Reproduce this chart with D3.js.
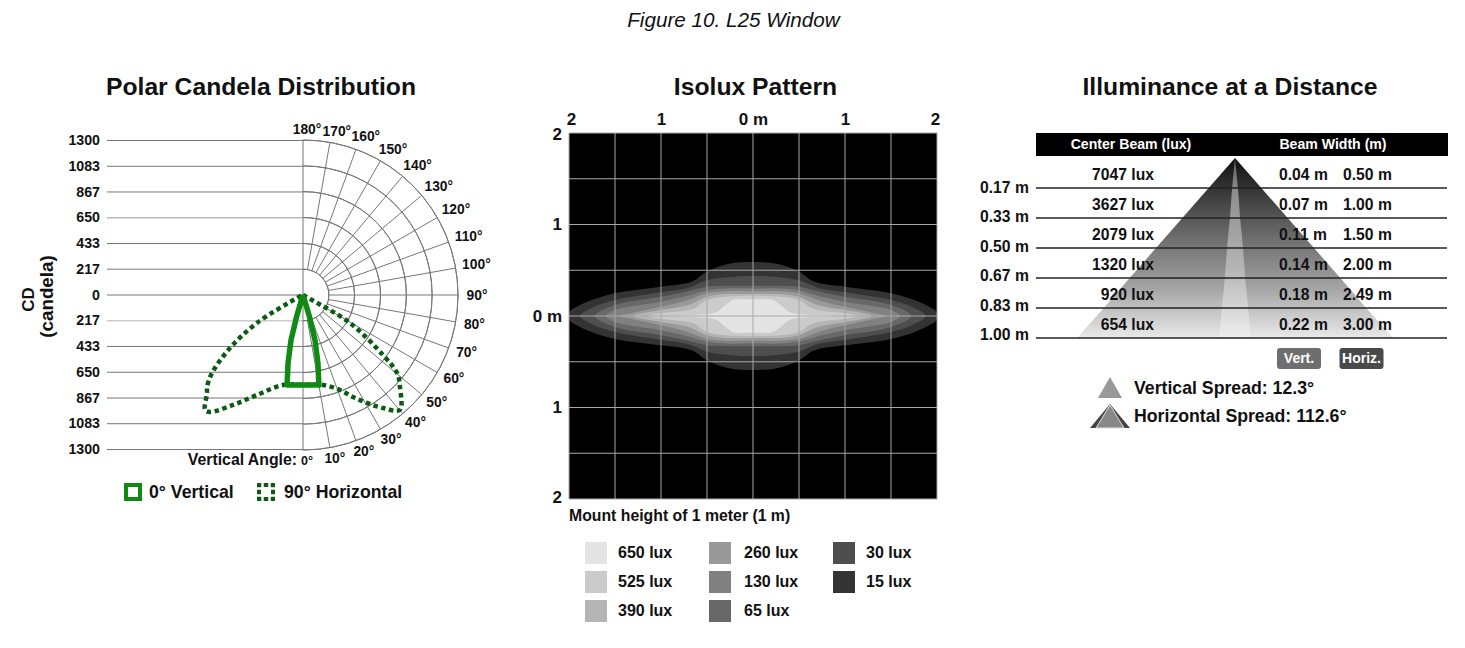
<!DOCTYPE html>
<html>
<head>
<meta charset="utf-8">
<script src="https://cdnjs.cloudflare.com/ajax/libs/d3/7.8.5/d3.min.js"></script>
<style>
body { margin: 0; background: #fff; }
text { font-family: "Liberation Sans", Arial, sans-serif; font-weight: bold; fill: #111; }
</style>
</head>
<body>
<div id="chart"></div>
<script>
// polar chart values, [angle in degrees, candela]
const cdTicks = [1300, 1083, 867, 650, 433, 217, 0, -217, -433, -650, -867, -1083, -1300];
const angleTicks = d3.range(0, 190, 10);
const vertical0 = [[0, 0], [16.7, 175], [14.9, 391], [12.4, 584], [10, 767], [5, 757], [0, 755],
	[-5, 757], [-10, 767], [-12.4, 584], [-14.9, 391], [-16.7, 175], [0, 0]];
const horizontal90 = [[0, 0], [61, 86], [59.2, 459], [53.1, 839], [50.3, 1025], [46.5, 1121], [40.1, 1260],
	[35.3, 1161], [30.7, 1053], [26.1, 953], [21.3, 855], [12.5, 773], [0, 755], [-12.5, 773],
	[-24.7, 923], [-32.5, 1093], [-38.5, 1253], [-40.4, 1267], [-44.4, 1150], [-46.2, 1115],
	[-49.4, 1005], [-54, 757], [-58.7, 452], [-63, 56], [0, 0]];

// isolux contours, upper right quadrant in metres
const isoLevels = ["15 lux", "30 lux", "65 lux", "130 lux", "260 lux", "390 lux", "525 lux", "650 lux"];
const isoColors = ["#333333", "#4e4e4e", "#686868", "#808080", "#999999", "#b5b5b5", "#cbcbcb", "#e4e4e4"];
const isoContours = [
	[[0, .59], [.26, .57], [.5, .485], [.66, .377], [1, .32], [1.5, .25], [1.79, .16], [2, .04], [2, 0]],
	[[0, .44], [.3, .42], [.5, .39], [.7, .31], [1, .26], [1.5, .175], [1.75, .09], [1.88, 0]],
	[[0, .33], [.3, .33], [.5, .32], [.75, .26], [1, .21], [1.5, .12], [1.72, 0]],
	[[0, .3], [.3, .3], [.5, .28], [.75, .21], [1, .155], [1.5, .065], [1.6, 0]],
	[[0, .27], [.3, .27], [.5, .25], [.75, .16], [1, .1], [1.3, .035], [1.45, 0]],
	[[0, .24], [.3, .24], [.5, .21], [.7, .12], [1, .065], [1.3, 0]],
	[[0, .22], [.3, .21], [.5, .175], [.65, .08], [1, .03], [1.15, 0]],
	[[0, .18], [.2, .18], [.3, .12], [.4, .04], [.6, .015], [.97, 0]]
];
const isoLegend = ["650 lux", "525 lux", "390 lux", "260 lux", "130 lux", "65 lux", "30 lux", "15 lux"];
const isoLegendColors = ["#e4e4e4", "#cbcbcb", "#b5b5b5", "#999999", "#808080", "#686868", "#4e4e4e", "#333333"];

// illuminance table
const depthLabels = ["0.17 m", "0.33 m", "0.50 m", "0.67 m", "0.83 m", "1.00 m"];
const centerBeam = ["7047 lux", "3627 lux", "2079 lux", "1320 lux", "920 lux", "654 lux"];
const vertWidth = [0.04, 0.07, 0.11, 0.14, 0.18, 0.22];
const horizWidth = [0.50, 1.00, 1.50, 2.00, 2.49, 3.00];

const svg = d3.select("#chart").append("svg").attr("width", 1465).attr("height", 648);

svg.append("text").attr("x", 733.5).attr("y", 27).attr("text-anchor", "middle")
	.style("font-size", "20.7px").style("font-style", "italic").style("font-weight", "normal").text("Figure 10. L25 Window");

[["Polar Candela Distribution", 261], ["Isolux Pattern", 755.5], ["Illuminance at a Distance", 1230]].forEach(t => {
	svg.append("text").attr("x", t[1]).attr("y", 95).attr("text-anchor", "middle")
		.style("font-size", "24.7px").text(t[0]);
});

// ---- polar ----
const cx = 303, cy = 295;
const yCd = d3.scaleLinear().domain([1300, -1300]).range([140, 449]);
const rCd = d3.scaleLinear().domain([0, 1300]).range([0, 155]);
const aDeg = d3.scaleLinear().domain([0, 180]).range([Math.PI, 0]);

const polarAxis = svg.append("g").attr("transform", `translate(${cx},0)`)
	.call(d3.axisLeft(yCd).tickValues(cdTicks).tickSize(196).tickPadding(7).tickFormat(d => Math.abs(d)));
polarAxis.select(".domain").remove();
polarAxis.selectAll(".tick line").attr("stroke", d => (d === 650 ? "#bbb" : d === -217 ? "#ccc" : "#777"))
	.attr("stroke-width", d => (d === 650 || d === -217 ? 1.5 : 1));
polarAxis.selectAll(".tick text").style("font-size", "14.2px").attr("fill", "#111");

const polar = svg.append("g").attr("transform", `translate(${cx},${cy})`);
polar.selectAll("path.ring").data(cdTicks.filter(d => d > 0)).enter().append("path")
	.attr("class", "ring").attr("fill", "none").attr("stroke", "#777")
	.attr("d", d => d3.arc()({ innerRadius: rCd(d), outerRadius: rCd(d), startAngle: 0, endAngle: Math.PI }));
polar.selectAll("line.spoke").data(angleTicks).enter().append("line")
	.attr("class", "spoke").attr("stroke", "#777")
	.attr("x1", d => (d % 180 ? rCd(217) : 0) * Math.sin(aDeg(d)))
	.attr("y1", d => -(d % 180 ? rCd(217) : 0) * Math.cos(aDeg(d)))
	.attr("x2", d => rCd(1300) * Math.sin(aDeg(d)))
	.attr("y2", d => -rCd(1300) * Math.cos(aDeg(d)));
polar.selectAll("text.ang").data(angleTicks).enter().append("text")
	.attr("class", "ang").attr("text-anchor", "middle").attr("dy", "0.35em")
	.attr("x", d => 172 * Math.sin(aDeg(d)) + (d >= 100 || d === 0 ? 4 : 2))
	.attr("y", d => -166 * Math.cos(aDeg(d)) + (d >= 100 && d <= 160 ? -2.5 : 0))
	.style("font-size", d => (d === 0 ? "12.5px" : "13.8px"))
	.text(d => d + "°");

const radial = d3.lineRadial().angle(d => aDeg(d[0])).radius(d => rCd(d[1])).curve(d3.curveCatmullRom.alpha(0.5));
polar.append("path").datum(horizontal90).attr("d", radial).attr("fill", "none")
	.attr("stroke", "#0c5a14").attr("stroke-width", 4.5).attr("stroke-dasharray", "4.5,3.5");
polar.append("path").datum(vertical0).attr("d", radial.curve(d3.curveLinear)).attr("fill", "none")
	.attr("stroke", "#0f8a12").attr("stroke-width", 5.5).attr("stroke-linejoin", "round");

svg.append("text").attr("transform", "translate(34,299.5) rotate(-90)").attr("text-anchor", "middle")
	.style("font-size", "17px").text("CD");
svg.append("text").attr("transform", "translate(53,296.5) rotate(-90)").attr("text-anchor", "middle")
	.style("font-size", "18.8px").text("(candela)");
svg.append("text").attr("x", 297).attr("y", 465).attr("text-anchor", "end").style("font-size", "15.8px").text("Vertical Angle:");

svg.append("rect").attr("x", 126).attr("y", 485).attr("width", 14).attr("height", 14)
	.attr("fill", "none").attr("stroke", "#0f8a12").attr("stroke-width", 4);
svg.append("text").attr("x", 149).attr("y", 498).style("font-size", "17.7px").text("0° Vertical");
svg.append("rect").attr("x", 259).attr("y", 485).attr("width", 14).attr("height", 14)
	.attr("fill", "none").attr("stroke", "#0c5a14").attr("stroke-width", 4)
	.attr("stroke-dasharray", "4.5,2.5").attr("stroke-dashoffset", 2.25);
svg.append("text").attr("x", 284).attr("y", 498).style("font-size", "17.7px").text("90° Horizontal");

// ---- isolux ----
const xIso = d3.scaleLinear().domain([-2, 2]).range([569, 937]);
const yIso = d3.scaleLinear().domain([2, -2]).range([133, 499]);
svg.append("defs").append("clipPath").attr("id", "isoClip").append("rect")
	.attr("x", 569).attr("y", 133).attr("width", 368).attr("height", 366);
svg.append("rect").attr("x", xIso(-2)).attr("y", yIso(2)).attr("width", xIso(2) - xIso(-2)).attr("height", yIso(-2) - yIso(2)).attr("fill", "#000");

// mirror a quadrant into a full closed outline
const fullOutline = q => {
	const rev = q.slice().reverse();
	return q.concat(rev.slice(1).map(p => [p[0], -p[1]]),
		q.slice(1).map(p => [-p[0], -p[1]]),
		rev.slice(1, -1).map(p => [-p[0], p[1]]));
};
const contour = d3.line().x(d => xIso(d[0])).y(d => yIso(d[1])).curve(d3.curveCatmullRomClosed.alpha(0.5));
svg.append("g").attr("clip-path", "url(#isoClip)").selectAll("path").data(isoContours).enter().append("path")
	.attr("d", d => contour(fullOutline(d)))
	.attr("fill", (d, i) => isoColors[i]);

const gridVals = d3.range(-2, 2.5, 0.5);
svg.append("g").selectAll("line").data(gridVals).enter().append("line")
	.attr("x1", d => xIso(d)).attr("x2", d => xIso(d)).attr("y1", yIso(2)).attr("y2", yIso(-2)).attr("stroke", "#a8a8a8");
svg.append("g").selectAll("line").data(gridVals).enter().append("line")
	.attr("y1", d => yIso(d)).attr("y2", d => yIso(d)).attr("x1", xIso(-2)).attr("x2", xIso(2)).attr("stroke", "#a8a8a8");

const isoFmt = d => (d === 0 ? "0 m" : Math.abs(d));
const isoTop = svg.append("g").attr("transform", "translate(0,133)")
	.call(d3.axisTop(xIso).tickValues([-2, -1, 0, 1, 2]).tickSize(0).tickPadding(8).tickFormat(isoFmt));
const isoLeft = svg.append("g").attr("transform", "translate(569,0)")
	.call(d3.axisLeft(yIso).tickValues([-2, -1, 0, 1, 2]).tickSize(0).tickPadding(7).tickFormat(isoFmt));
[isoTop, isoLeft].forEach(a => {
	a.select(".domain").remove();
	a.selectAll("text").style("font-size", "17px").attr("fill", "#111");
});
// end labels sit slightly inside the panel
isoTop.selectAll("text").attr("dx", d => (d === -2 ? 2 : d === 2 ? -2 : 0));
isoLeft.selectAll("text").attr("y", d => (d === 2 ? 1 : d === -2 ? -2 : 0));

svg.append("text").attr("x", 569).attr("y", 521).style("font-size", "15.8px").text("Mount height of 1 meter (1 m)");

const legCols = [585, 709, 833], legText = [618, 744, 866], legRows = [542, 571, 600];
isoLegend.forEach((label, i) => {
	const c = Math.floor(i / 3), r = i % 3;
	svg.append("rect").attr("x", legCols[c]).attr("y", legRows[r]).attr("width", 22).attr("height", 22).attr("fill", isoLegendColors[i]);
	svg.append("text").attr("x", legText[c]).attr("y", legRows[r] + 15.5).style("font-size", "16px").text(label);
});

// ---- illuminance ----
const beamX = 1235;
const yRow = d3.scalePoint().domain(["apex"].concat(depthLabels)).range([158, 338]);
const yDepthLabel = d3.scalePoint().domain(depthLabels).range([193, 340]);
const wHoriz = d3.scaleLinear().domain([0, 3]).range([0, 316]);
const wVert = d3.scaleLinear().domain([0, 0.22]).range([0, 32]);

const defs = svg.select("defs");
const addGrad = (id, stops) => {
	const g = defs.append("linearGradient").attr("id", id).attr("gradientUnits", "userSpaceOnUse")
		.attr("x1", 0).attr("x2", 0).attr("y1", 156).attr("y2", 340);
	stops.forEach(s => g.append("stop").attr("offset", s[0]).attr("stop-color", s[1]));
};
addGrad("outerGrad", [[0, "#0d0d0d"], [0.35, "#5a5a5a"], [0.7, "#a0a0a0"], [1, "#ececec"]]);
addGrad("innerGrad", [[0, "#5c5c5c"], [0.2, "#8e8e8e"], [0.6, "#b4b4b4"], [1, "#f0f0f0"]]);

const cone = (widths, w) => d3.area()
	.x0((d, i) => beamX - w(i ? widths[i - 1] : 0) / 2)
	.x1((d, i) => beamX + w(i ? widths[i - 1] : 0) / 2)
	.y(d => yRow(d))(yRow.domain());
svg.append("path").attr("d", cone(horizWidth, wHoriz)).attr("fill", "url(#outerGrad)");
svg.append("path").attr("d", cone(vertWidth, wVert)).attr("fill", "url(#innerGrad)");

svg.append("rect").attr("x", 1036).attr("y", 133).attr("width", 412).attr("height", 23).attr("fill", "#000");
[["Center Beam (lux)", 1131], ["Beam Width (m)", 1333]].forEach(t => {
	svg.append("text").attr("x", t[1]).attr("y", 149).attr("text-anchor", "middle")
		.style("font-size", "14.1px").style("fill", "#fff").text(t[0]);
});

depthLabels.forEach((label, i) => {
	const y = yRow(label);
	svg.append("line").attr("x1", 1036).attr("x2", 1447).attr("y1", y).attr("y2", y).attr("stroke", "#222").attr("stroke-width", 1.5);
	svg.append("text").attr("x", 980).attr("y", yDepthLabel(label)).style("font-size", "15.7px").text(label);
	svg.append("text").attr("x", 1154).attr("y", y - 8.5).attr("text-anchor", "end").style("font-size", "15.7px").text(centerBeam[i]);
	svg.append("text").attr("x", 1279).attr("y", y - 8.5).style("font-size", "15.7px").text(vertWidth[i].toFixed(2) + " m");
	svg.append("text").attr("x", 1343).attr("y", y - 8.5).style("font-size", "15.7px").text(horizWidth[i].toFixed(2) + " m");
});

[["Vert.", 1277, "#6e6e6e"], ["Horiz.", 1339.5, "#4a4a4a"]].forEach(b => {
	svg.append("rect").attr("x", b[1]).attr("y", 348).attr("width", 44).attr("height", 21).attr("rx", 3).attr("fill", b[2]);
	svg.append("text").attr("x", b[1] + 22).attr("y", 363).attr("text-anchor", "middle")
		.style("font-size", "14px").style("fill", "#fff").text(b[0]);
});

const tri = d3.line();
svg.append("path").attr("d", tri([[1110, 377], [1122, 398], [1098, 398]]) + "Z").attr("fill", "#999");
svg.append("path").attr("d", tri([[1110, 404], [1130, 428], [1090, 428]]) + "Z").attr("fill", "#444");
svg.append("path").attr("d", tri([[1110, 405], [1124, 428], [1096, 428]]) + "Z").attr("fill", "#888").attr("stroke", "#ddd");
svg.append("text").attr("x", 1134).attr("y", 394).style("font-size", "17.7px").text("Vertical Spread: 12.3°");
svg.append("text").attr("x", 1134).attr("y", 422).style("font-size", "17.7px").text("Horizontal Spread: 112.6°");
</script>
</body>
</html>
